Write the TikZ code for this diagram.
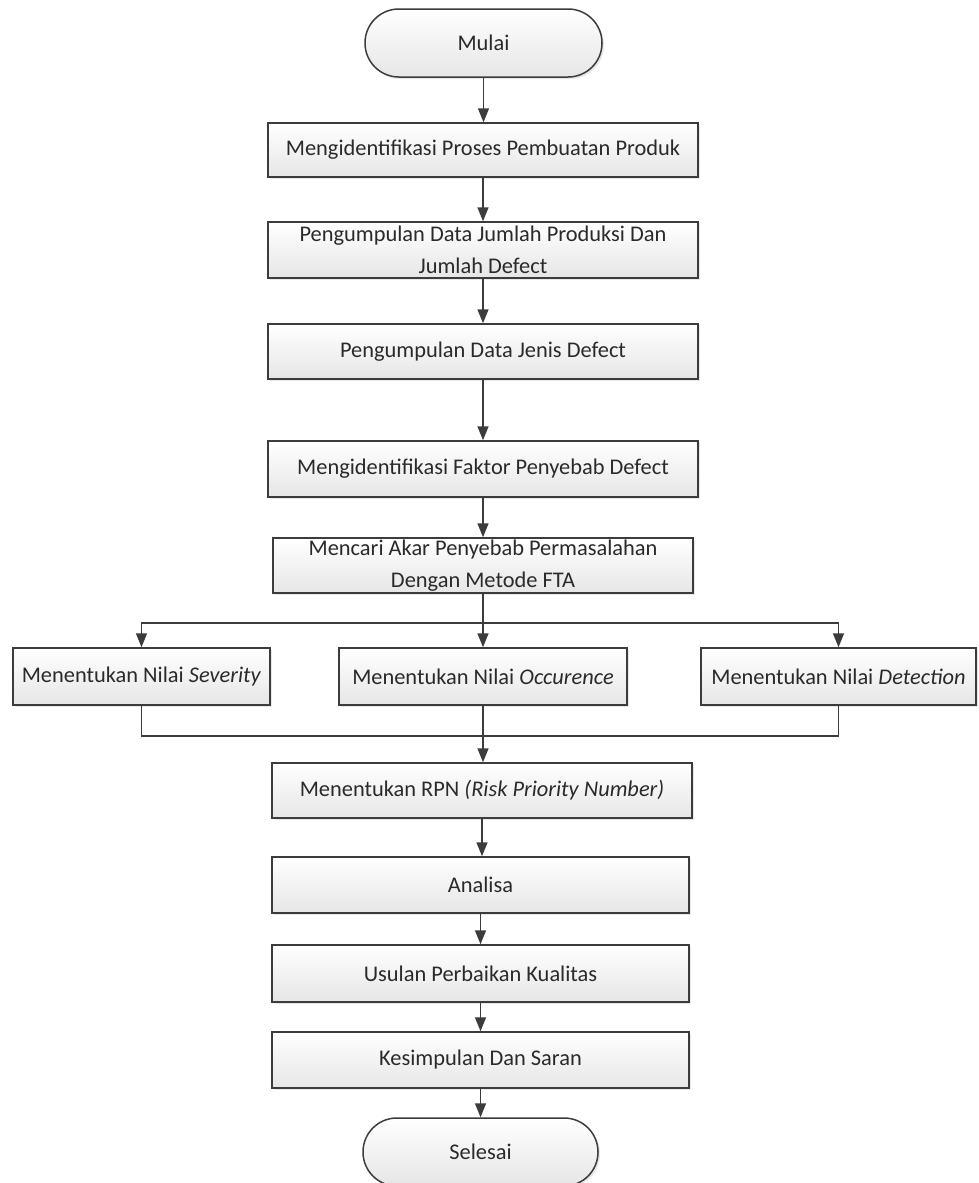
\documentclass[tikz,border=0pt]{standalone}
\usepackage{fontspec}
\setmainfont{Carlito}
\usetikzlibrary{arrows.meta,shadows}
\definecolor{edge}{HTML}{3C3C3C}
\definecolor{ink}{HTML}{2A2A2A}
\definecolor{boxlow}{HTML}{E6E6E6}
\begin{document}
\begin{tikzpicture}[x=1pt,y=-1pt,
  every node/.style={font=\fontsize{22.4}{32}\selectfont, text=ink, align=center},
  procbox/.style={draw=edge, line width=1.5pt, top color=white, bottom color=boxlow,
    drop shadow={opacity=0.18, shadow xshift=2pt, shadow yshift=-2pt},
    inner sep=0pt},
  termbox/.style={procbox, rounded corners=33.9pt},
  flow/.style={draw=edge, line width=1.5pt},
  arr/.style={flow, -{Triangle[length=14pt,width=11pt]}}
]
\useasboundingbox[fill=white] (0,0) rectangle (978,1183);

% main column
\node[termbox, minimum width=237pt, minimum height=68pt] (start) at (483.5,43) {Mulai};
\node[procbox, minimum width=430pt, minimum height=54pt] (b1) at (483,150) {Mengidentifikasi Proses Pembuatan Produk};
\node[procbox, minimum width=430pt, minimum height=56pt] (b2) at (483,250) {Pengumpulan Data Jumlah Produksi Dan\\Jumlah Defect};
\node[procbox, minimum width=430pt, minimum height=55pt] (b3) at (483,351.5) {Pengumpulan Data Jenis Defect};
\node[procbox, minimum width=430pt, minimum height=56pt] (b4) at (483,469) {Mengidentifikasi Faktor Penyebab Defect};
\node[procbox, minimum width=420pt, minimum height=55pt] (b5) at (483,565.5) {Mencari Akar Penyebab Permasalahan\\Dengan Metode FTA};

% three parallel ratings
\node[procbox, minimum width=257pt, minimum height=57pt] (sev) at (141.5,676.5) {Menentukan Nilai \textit{Severity}};
\node[procbox, minimum width=288pt, minimum height=57pt] (occ) at (483,676.5) {Menentukan Nilai \textit{Occurence}};
\node[procbox, minimum width=275pt, minimum height=57pt] (det) at (838.5,676.5) {Menentukan Nilai \textit{Detection}};

\node[procbox, minimum width=420pt, minimum height=55pt] (rpn) at (482,790.5) {Menentukan RPN \textit{(Risk Priority Number)}};
\node[procbox, minimum width=417pt, minimum height=56pt] (ana) at (480.5,885) {Analisa};
\node[procbox, minimum width=417pt, minimum height=57pt] (usu) at (480.5,973.5) {Usulan Perbaikan Kualitas};
\node[procbox, minimum width=417pt, minimum height=56pt] (kes) at (480.5,1060) {Kesimpulan Dan Saran};
\node[termbox, minimum width=235pt, minimum height=68pt] (end) at (480.5,1152) {Selesai};

% junction points of the split and the merge
\coordinate (split) at (483,623);
\coordinate (join) at (481,736);

% connectors
\draw[arr] (start.south) -- (start.south |- b1.north);
\draw[arr] (b1.south) -- (b1.south |- b2.north);
\draw[arr] (b2.south) -- (b2.south |- b3.north);
\draw[arr] (b3.south) -- (b3.south |- b4.north);
\draw[arr] (b4.south) -- (b4.south |- b5.north);
\draw[flow] (b5.south) -- (split);
\draw[arr] (split) -| (sev.north);
\draw[arr] (split) -| (det.north);
\draw[arr] (split) -- (split |- occ.north);
\draw[flow] (sev.south) |- (join);
\draw[flow] (det.south) |- (join);
\draw[arr] (occ.south) -- (occ.south |- rpn.north);
\draw[arr] (rpn.south) -- (rpn.south |- ana.north);
\draw[arr] (ana.south) -- (ana.south |- usu.north);
\draw[arr] (usu.south) -- (usu.south |- kes.north);
\draw[arr] (kes.south) -- (kes.south |- end.north);
\end{tikzpicture}
\end{document}
